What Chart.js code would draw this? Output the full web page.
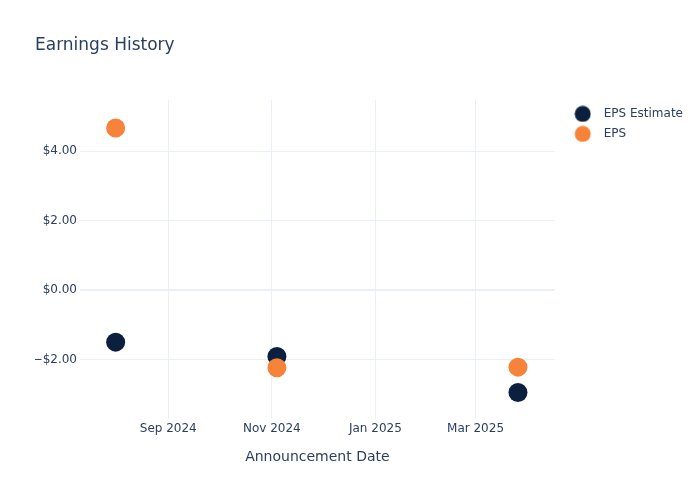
<!DOCTYPE html>
<html>
<head>
<meta charset="utf-8">
<script src="https://cdn.jsdelivr.net/npm/chart.js@4"></script>
<style>
  body { margin: 0; background: #fff; }
  #wrap { width: 700px; height: 500px; }
</style>
</head>
<body>
<div id="wrap"><canvas id="earningsChart" width="700" height="500"></canvas></div>
<script>
// Data
const announceDates = ['2024-08-01', '2024-11-04', '2025-03-26'];
const epsEstimate = [-1.50, -1.91, -2.95];
const epsActual = [4.67, -2.24, -2.22];

const monthTicks = ['2024-09-01', '2024-11-01', '2025-01-01', '2025-03-01'];
const monthLabels = ['Sep 2024', 'Nov 2024', 'Jan 2025', 'Mar 2025'];
const yTicks = [-2, 0, 2, 4];

const navy = '#0b1f3f';
const orange = '#f7823a';
const textColor = '#2a3f5f';
const gridColor = '#ebf0f8';
const font = 'DejaVu Sans';

// small circle images for the legend markers
function dot(color) {
    const c = document.createElement('canvas');
    c.width = 17;
    c.height = 17;
    const g = c.getContext('2d');
    g.fillStyle = color;
    g.beginPath();
    g.arc(8.5, 8.5, 8, 0, Math.PI * 2);
    g.fill();
    return c;
}
const legendDots = [dot(navy), dot(orange)];

const toPoints = (vals) => vals.map((v, i) => ({ x: Date.parse(announceDates[i]), y: v }));

function fmtMoney(v) {
    return (v < 0 ? '\u2212$' : '$') + Math.abs(v).toFixed(2);
}

const ctx = document.getElementById('earningsChart').getContext('2d');
const earningsChart = new Chart(ctx, {
    type: 'scatter',
    data: {
        datasets: [
            {
                label: 'EPS Estimate',
                data: toPoints(epsEstimate),
                backgroundColor: navy,
                borderWidth: 0,
                pointRadius: 9.5,
                pointHoverRadius: 9.5,
                order: 1
            },
            {
                label: 'EPS',
                data: toPoints(epsActual),
                backgroundColor: orange,
                borderWidth: 0,
                pointRadius: 9.5,
                pointHoverRadius: 9.5,
                order: 0
            }
        ]
    },
    options: {
        responsive: false,
        animation: false,
        layout: {
            padding: { left: 35, right: 7, top: 0, bottom: 34.6 }
        },
        plugins: {
            title: {
                display: true,
                text: 'Earnings History',
                align: 'start',
                color: textColor,
                font: { family: font, size: 17, weight: 'normal' },
                padding: { top: 35.5, bottom: 44 }
            },
            legend: {
                position: 'right',
                align: 'start',
                fullSize: false,
                maxWidth: 200,
                labels: {
                    usePointStyle: true,
                    pointStyleWidth: 30,
                    padding: 8,
                    color: textColor,
                    font: { family: font, size: 12 },
                    sort: (a, b) => a.datasetIndex - b.datasetIndex,
                    generateLabels: (chart) => {
                        const items = Chart.defaults.plugins.legend.labels.generateLabels(chart);
                        items.forEach(item => { item.pointStyle = legendDots[item.datasetIndex]; });
                        return items;
                    }
                }
            },
            tooltip: { enabled: false }
        },
        scales: {
            x: {
                type: 'linear',
                min: Date.parse('2024-07-11'),
                max: Date.parse('2025-04-16T16:00:00Z'),
                afterBuildTicks: (scale) => {
                    scale.ticks = monthTicks.map(d => ({ value: Date.parse(d) }));
                },
                ticks: {
                    autoSkip: false,
                    maxRotation: 0,
                    padding: 2,
                    color: textColor,
                    font: { family: font, size: 12 },
                    callback: (value, index) => monthLabels[index]
                },
                grid: { color: gridColor, drawTicks: false },
                border: { display: false },
                title: {
                    display: true,
                    text: 'Announcement Date',
                    color: textColor,
                    font: { family: font, size: 14 },
                    padding: { top: 11, bottom: 0 }
                }
            },
            y: {
                min: -3.72,
                max: 5.48,
                afterBuildTicks: (scale) => {
                    scale.ticks = yTicks.map(v => ({ value: v }));
                },
                afterFit: (scale) => { scale.width = 45; },
                ticks: {
                    padding: 3,
                    color: textColor,
                    font: { family: font, size: 12 },
                    callback: (value) => fmtMoney(value)
                },
                grid: {
                    color: gridColor,
                    drawTicks: false,
                    lineWidth: (c) => (c.tick && c.tick.value === 0 ? 2 : 1)
                },
                border: { display: false }
            },
            // empty spacer between the plot and the legend
            gap: {
                type: 'linear',
                position: 'right',
                display: true,
                grid: { display: false },
                border: { display: false },
                ticks: { display: false },
                afterFit: (scale) => { scale.width = 5; }
            }
        }
    }
});
</script>
</body>
</html>
